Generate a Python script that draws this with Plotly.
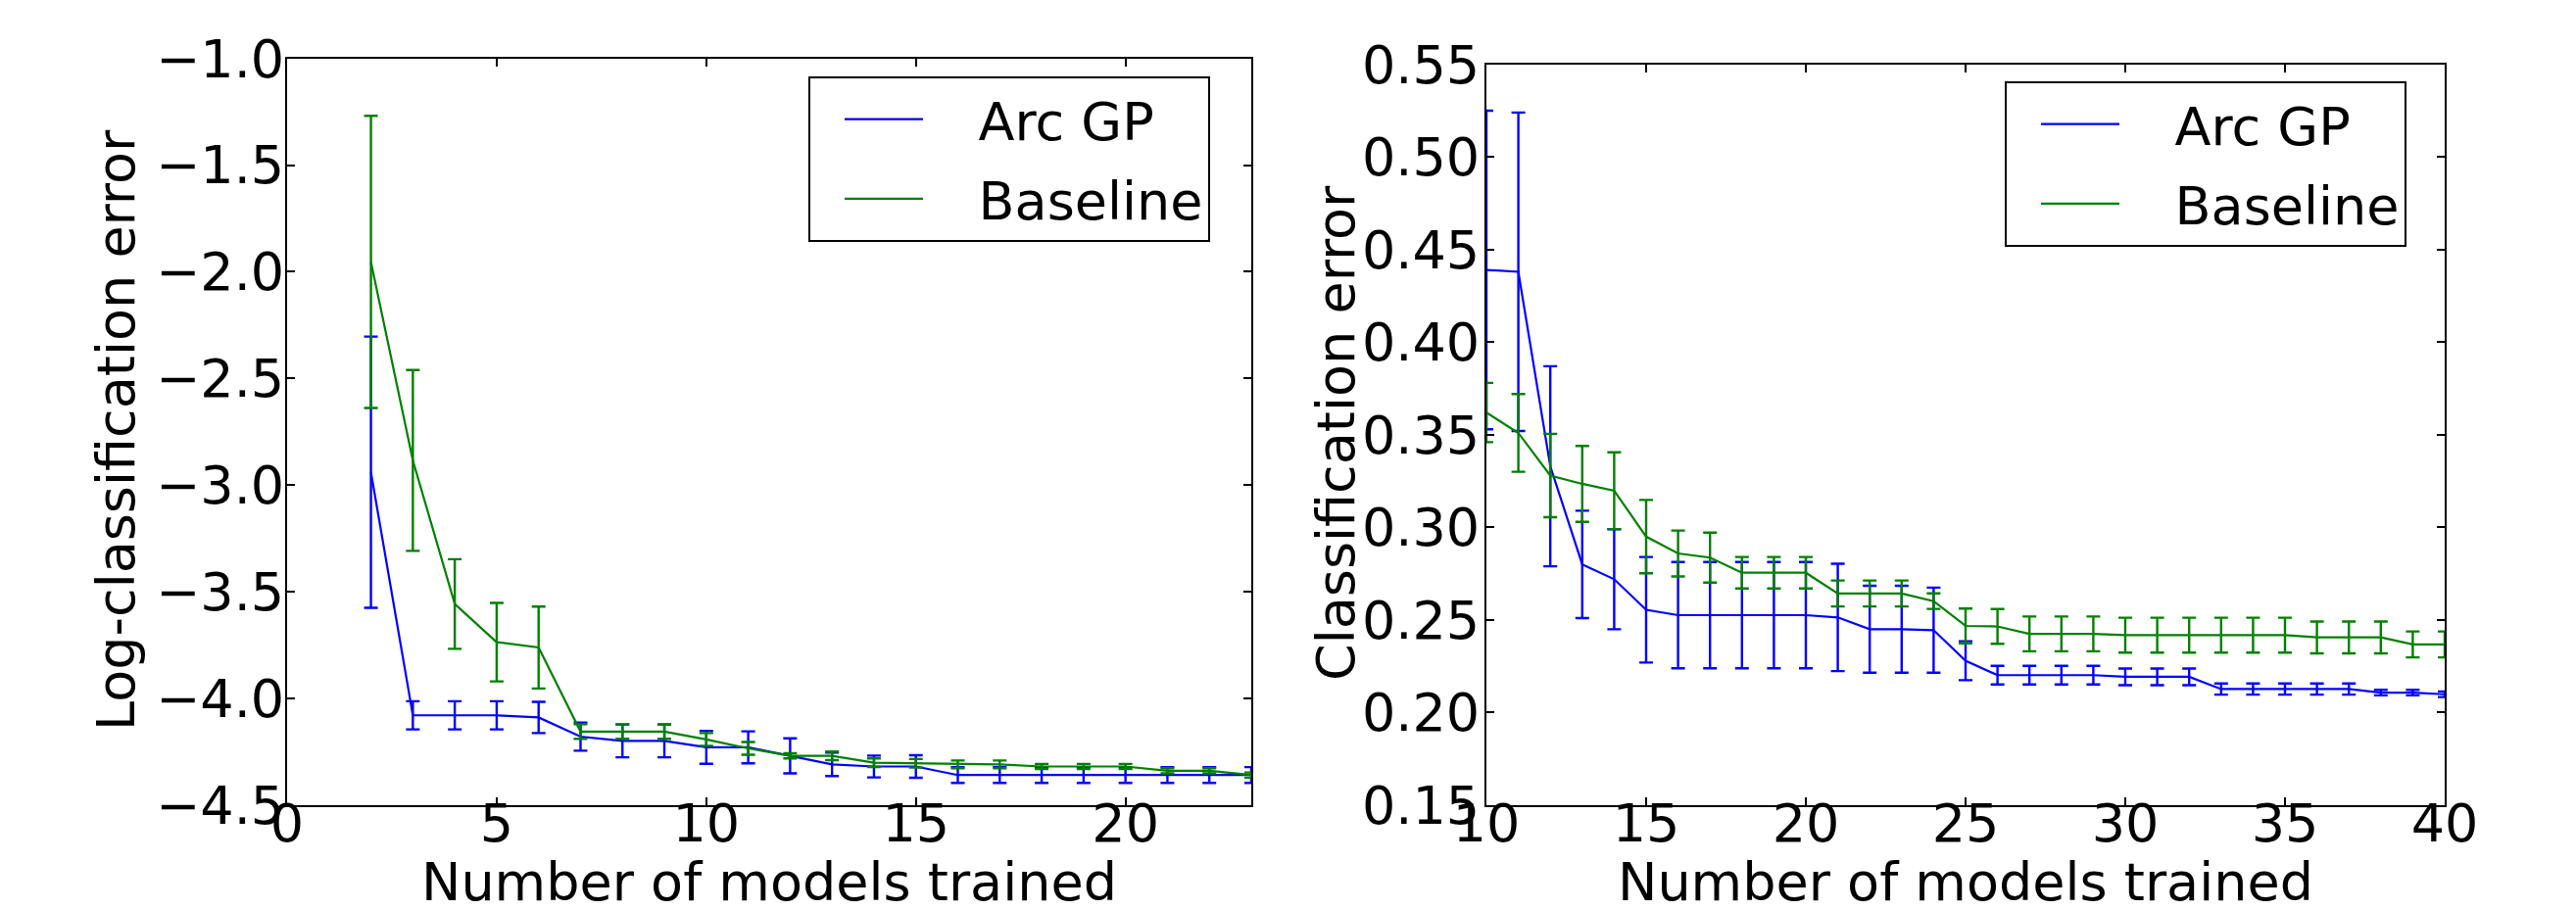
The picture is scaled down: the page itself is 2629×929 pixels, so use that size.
import plotly.graph_objects as go

# ---------------- data ----------------
x_left = list(range(2, 24))
arc_left_mean = [-2.94, -4.08, -4.08, -4.08, -4.09, -4.18, -4.20, -4.20, -4.23, -4.23, -4.27,
                 -4.31, -4.32, -4.32, -4.36, -4.36, -4.36, -4.36, -4.36, -4.36, -4.36, -4.36]
arc_left_err = [0.636, 0.066, 0.066, 0.066, 0.073, 0.066, 0.077, 0.077, 0.077, 0.075, 0.082,
                0.055, 0.051, 0.053, 0.037, 0.037, 0.037, 0.037, 0.037, 0.037, 0.037, 0.037]
base_left_mean = [-1.954, -2.885, -3.558, -3.737, -3.762, -4.156, -4.156, -4.156, -4.193, -4.235, -4.27,
                  -4.27, -4.302, -4.305, -4.31, -4.31, -4.32, -4.32, -4.32, -4.34, -4.34, -4.36]
base_left_err = [0.685, 0.424, 0.21, 0.184, 0.192, 0.034, 0.034, 0.034, 0.03, 0.03, 0.012,
                 0.02, 0.02, 0.02, 0.018, 0.018, 0.012, 0.012, 0.012, 0.012, 0.012, 0.012]

x_right = list(range(10, 41))
arc_right_mean = [0.439, 0.438, 0.333, 0.280, 0.272, 0.2555, 0.2526, 0.2526, 0.2526, 0.2526, 0.2526,
                  0.2514, 0.245, 0.245, 0.2445, 0.228, 0.2202, 0.2202, 0.2202, 0.2202, 0.2193,
                  0.2193, 0.2193, 0.2127, 0.2127, 0.2127, 0.2127, 0.2127, 0.2108, 0.2108, 0.2099]
arc_right_err = [0.086, 0.086, 0.054, 0.029, 0.027, 0.0285, 0.0287, 0.0287, 0.0287, 0.0287, 0.0287,
                 0.029, 0.0235, 0.0235, 0.023, 0.0105, 0.005, 0.005, 0.005, 0.005, 0.0045,
                 0.0045, 0.0045, 0.003, 0.003, 0.003, 0.003, 0.003, 0.0015, 0.0015, 0.0015]
base_right_mean = [0.362, 0.351, 0.328, 0.3235, 0.3198, 0.295, 0.2859, 0.2837, 0.2755, 0.2755, 0.2755,
                   0.2643, 0.2643, 0.2643, 0.2602, 0.2468, 0.2465, 0.2425, 0.2425, 0.2425, 0.2418,
                   0.2418, 0.2418, 0.2418, 0.2418, 0.2418, 0.2406, 0.2406, 0.2406, 0.2368, 0.2368]
base_right_err = [0.016, 0.021, 0.0225, 0.0205, 0.0207, 0.0198, 0.0124, 0.0135, 0.0085, 0.0085, 0.0085,
                  0.007, 0.007, 0.007, 0.0042, 0.0094, 0.0094, 0.0094, 0.0094, 0.0094, 0.0094,
                  0.0094, 0.0094, 0.0094, 0.0094, 0.0094, 0.0086, 0.0086, 0.0086, 0.007, 0.007]

series_names = ["Arc GP", "Baseline"]
x_title = "Number of models trained"
y_title_left = "Log-classification error"
y_title_right = "Classification error"

# ---------------- style ----------------
BLUE = "#0000ff"
GREEN = "#008000"
FONT = "DejaVu Sans"
FS = 54
W, H = 2629, 929
GAP = "\u00a0\u00a0\u00a0"   # visual gap between legend line and label

fig = go.Figure()

def add(x, y, e, color, name, xa, ya, legend, group):
    fig.add_trace(go.Scatter(
        x=x, y=y, mode="lines", name=GAP + name,
        line=dict(color=color, width=2.2),
        error_y=dict(type="data", array=e, visible=True, color=color, thickness=2.4, width=7),
        xaxis=xa, yaxis=ya, legend=legend, legendgroup=group + legend,
    ))

add(x_left, arc_left_mean, arc_left_err, BLUE, series_names[0], "x", "y", "legend", "a")
add(x_left, base_left_mean, base_left_err, GREEN, series_names[1], "x", "y", "legend", "b")
add(x_right, arc_right_mean, arc_right_err, BLUE, series_names[0], "x2", "y2", "legend2", "a")
add(x_right, base_right_mean, base_right_err, GREEN, series_names[1], "x2", "y2", "legend2", "b")

axis_common = dict(
    showline=True, linecolor="black", linewidth=2, mirror="allticks",
    ticks="inside", ticklen=8, tickwidth=1.5, tickcolor="black",
    showgrid=False, zeroline=False, automargin=False,
    tickfont=dict(family=FONT, size=FS, color="black"),
)

def px_x(p):
    return p / W

def px_y(p):
    return 1 - p / H

legend_common = dict(
    font=dict(family=FONT, size=FS, color="black"),
    bgcolor="white", bordercolor="black", borderwidth=2,
    xanchor="left", yanchor="top", tracegroupgap=8, itemwidth=80, indentation=30,
)

L_X0, L_X1 = 285, 1269
R_X0, R_X1 = 1509, 2487
title_font = dict(family=FONT, size=FS, color="black")

def title_ann(text, xc, yc, angle=0):
    return dict(text=text, xref="paper", yref="paper", x=px_x(xc), y=px_y(yc),
                xanchor="center", yanchor="middle", showarrow=False, textangle=angle,
                font=title_font)

fig.update_layout(
    width=W, height=H,
    margin=dict(l=0, r=0, t=0, b=0),
    paper_bgcolor="white", plot_bgcolor="white",
    font=dict(family=FONT, size=FS, color="black"),
    xaxis=dict(domain=[px_x(L_X0), px_x(L_X1)], range=[0, 23], dtick=5, tick0=0, anchor="y",
               ticklabelstandoff=-30, **axis_common),
    yaxis=dict(domain=[px_y(813.7), px_y(51.7)], range=[-4.5, -1.0], dtick=0.5, tick0=-4.5,
               tickformat=".1f", anchor="x", ticklabelstandoff=-10, **axis_common),
    xaxis2=dict(domain=[px_x(R_X0), px_x(R_X1)], range=[10, 40], dtick=5, tick0=10, anchor="y2",
                ticklabelstandoff=-30, **axis_common),
    yaxis2=dict(domain=[px_y(814), px_y(57.7)], range=[0.15, 0.55], dtick=0.05, tick0=0.15,
                tickformat=".2f", anchor="x2", ticklabelstandoff=-6, **axis_common),
    legend=dict(x=px_x(817), y=px_y(70), **legend_common),
    legend2=dict(x=px_x(2038), y=px_y(75), **legend_common),
    showlegend=True,
    annotations=[
        title_ann(x_title, (L_X0 + L_X1) / 2, 892),
        title_ann(x_title, (R_X0 + R_X1) / 2, 892),
        title_ann(y_title_left, 110, 431, -90),
        title_ann(y_title_right, 1356, 434, -90),
    ],
)

fig.write_html("out.html")
